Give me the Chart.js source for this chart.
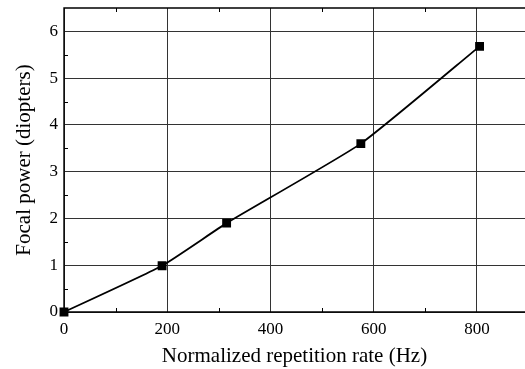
<!DOCTYPE html>
<html>
<head>
<meta charset="utf-8">
<script src="https://cdn.jsdelivr.net/npm/chart.js@4.4.1/dist/chart.umd.min.js"></script>
<style>
html,body{margin:0;padding:0;background:#fff;}
#wrap{width:525px;height:369px;}
</style>
</head>
<body>
<div id="wrap"><canvas id="c" width="525" height="369"></canvas></div>
<script>
const repRate = [0, 190, 315, 575, 805];
const focalPower = [0, 0.99, 1.9, 3.6, 5.68];
const xTicks = [0, 200, 400, 600, 800];
const yTicks = [0, 1, 2, 3, 4, 5, 6];
const xTitle = 'Normalized repetition rate (Hz)';
const yTitle = 'Focal power (diopters)';

const FONT = '"Liberation Serif", "DejaVu Serif", serif';

const framePlugin = {
  id: 'frame',
  afterDatasetsDraw(chart) {
    const {ctx, chartArea: a, scales} = chart;
    ctx.save();
    ctx.strokeStyle = '#000';
    ctx.lineWidth = 1.4;
    ctx.beginPath();
    ctx.moveTo(a.right, a.top); ctx.lineTo(a.left, a.top); ctx.lineTo(a.left, a.bottom); ctx.lineTo(a.right, a.bottom);
    ctx.stroke();
    ctx.lineWidth = 1;
    const xs = scales.x, ys = scales.y;
    for (let v = 100; v < xs.max; v += 200) {
      const px = Math.round(xs.getPixelForValue(v)) + 0.5;
      ctx.beginPath(); ctx.moveTo(px, a.bottom); ctx.lineTo(px, a.bottom - 4); ctx.stroke();
      ctx.beginPath(); ctx.moveTo(px, a.top); ctx.lineTo(px, a.top + 4); ctx.stroke();
    }
    for (let v = 0.5; v < ys.max; v += 1) {
      const py = Math.round(ys.getPixelForValue(v)) + 0.5;
      ctx.beginPath(); ctx.moveTo(a.left, py); ctx.lineTo(a.left + 4, py); ctx.stroke();
    }
    ctx.restore();
  }
};

new Chart(document.getElementById('c'), {
  type: 'scatter',
  data: {
    datasets: [{
      data: repRate.map((x, i) => ({x, y: focalPower[i]})),
      showLine: true,
      borderColor: '#000',
      borderWidth: 1.8,
      backgroundColor: '#000',
      pointStyle: 'rect',
      pointRadius: 5,
      pointHoverRadius: 5,
      tension: 0.15,
      clip: false
    }]
  },
  options: {
    responsive: false,
    animation: false,
    layout: {autoPadding: false, padding: {left: 0, right: 0, top: 8, bottom: 0}},
    plugins: {legend: {display: false}, tooltip: {enabled: false}},
    scales: {
      x: {
        type: 'linear', min: 0, max: 893,
        afterBuildTicks(s) { s.ticks = xTicks.map(v => ({value: v})); },
        afterFit(s) { s.height = 57; s.paddingLeft = 0; s.paddingRight = 0; },
        grid: {color: '#333', lineWidth: 1, drawTicks: false},
        border: {display: false},
        ticks: {color: '#000', font: {family: FONT, size: 17}, padding: 7, maxRotation: 0},
        title: {display: true, text: xTitle, color: '#000', font: {family: FONT, size: 21}, padding: {top: 0, bottom: 0}}
      },
      y: {
        type: 'linear', min: 0, max: 6.5,
        afterBuildTicks(s) { s.ticks = yTicks.map(v => ({value: v})); },
        afterFit(s) { s.width = 64; s.paddingTop = 0; s.paddingBottom = 0; },
        grid: {color: '#333', lineWidth: 1, drawTicks: false},
        border: {display: false},
        ticks: {color: '#000', font: {family: FONT, size: 17}, padding: 6},
        title: {display: true, text: yTitle, color: '#000', font: {family: FONT, size: 21}, padding: {top: 12, bottom: 0}}
      }
    }
  },
  plugins: [framePlugin]
});
</script>
</body>
</html>
